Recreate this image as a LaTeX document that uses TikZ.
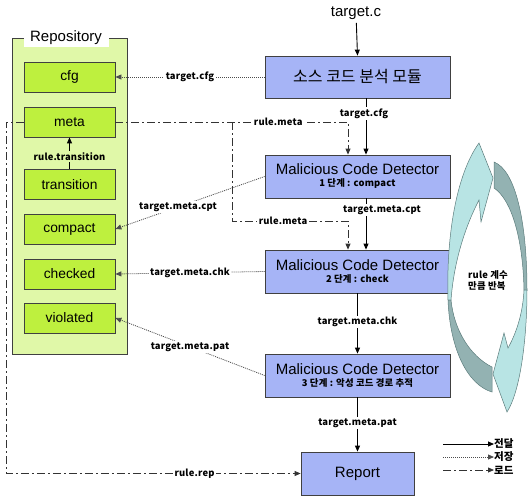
\documentclass[tikz,border=0pt]{standalone}
\usepackage{fontspec}
\setmainfont{Liberation Sans}
\newfontfamily\kr{Noto Sans CJK KR}
\newfontfamily\lblf{Noto Sans CJK KR}[LetterSpace=2]
\usetikzlibrary{arrows.meta}
\definecolor{outg}{HTML}{E0F8A8}
\definecolor{ing}{HTML}{BEF03E}
\definecolor{boxb}{HTML}{A6B4F6}
\definecolor{cyl}{HTML}{B8E4E4}
\definecolor{cyd}{HTML}{93B2B2}
\definecolor{cyo}{HTML}{5C7C7C}
\newcommand\lblfont{\lblf\bfseries\fontsize{9.4}{11}\selectfont}
\newcommand\bigf{\fontsize{15}{15}\selectfont}
\begin{document}
\begin{tikzpicture}[x=1pt,y=-1pt,
  repbox/.style={draw=black!75, fill=ing, minimum width=91pt, minimum height=30pt, inner sep=0pt, font=\fontsize{13.8}{14}\selectfont, line width=0.8pt},
  modbox/.style={draw=black!75, fill=boxb, minimum width=185pt, minimum height=43pt, inner sep=0pt, line width=0.8pt, align=center},
  lbl/.style={fill=white, text=black, inner sep=1.5pt, font=\lblfont},
  tip/.style={-{Triangle[length=6pt,width=5pt]}},
  flow/.style={line width=0.9pt, tip},
  store/.style={line width=0.8pt, black!70, dash pattern=on 1pt off 1pt, tip},
  load/.style={line width=0.8pt, black!80, dash pattern=on 8pt off 3pt on 2pt off 3pt, tip},
  cyc/.style={draw=cyo, line width=0.5pt},
]
\useasboundingbox (0,0) rectangle (528,496);

% Repository
\node[draw=black!75, fill=outg, line width=0.8pt, minimum width=115pt, minimum height=316pt, inner sep=0pt] (repo) at (69.5,196) {};
\node[fill=white, minimum width=85pt, minimum height=18pt, inner sep=0pt, font=\bigf] (reptitle) at ([xshift=-3.5pt]repo.north) {Repository};
\node[repbox] (cfg) at (69.5,77) {cfg};
\node[repbox] (meta) at (69.5,122) {meta};
\node[repbox] (transition) at (69.5,184.5) {transition};
\node[repbox] (compact) at (69.5,229) {compact};
\node[repbox] (checked) at (69.5,274) {checked};
\node[repbox] (violated) at (69.5,318) {violated};

% modules
\node[font=\bigf] (tc) at (356,13) {target.c};
\node[modbox, minimum height=42pt] (src) at (357.5,77) {\kr\fontsize{16}{16}\selectfont 소스 코드 분석 모듈};
\node[modbox] (det1) at (357.5,176.5) {\bigf Malicious Code Detector\\\lblfont 1 단계 : compact};
\node[modbox] (det2) at (357.5,271.5) {\bigf Malicious Code Detector\\\lblfont 2 단계 : check};
\node[modbox] (det3) at (357.5,375.5) {\bigf Malicious Code Detector\\\lblfont 3 단계 : 악성 코드 경로 추적};
\node[modbox, minimum width=113pt] (report) at (357.5,473.5) {\bigf Report};

% main flow
\draw[flow] (tc) -- (src.north);
\draw[flow] ([xshift=8.5pt]src.south) -- node[lbl, pos=.27, xshift=-2pt] {target.cfg} ([xshift=8.5pt]det1.north);
\draw[flow] ([xshift=8.5pt]det1.south) -- node[lbl, pos=.23, xshift=16pt] {target.meta.cpt} ([xshift=8.5pt]det2.north);
\draw[flow] (det2.south) -- node[lbl, pos=.475] {target.meta.chk} (det3.north);
\draw[flow] (det3.south) -- node[lbl, pos=.47] {target.meta.pat} (report.north);
\draw[flow] (transition.north) -- node[lbl, fill=outg, pos=.4] {rule.transition} (meta.south);

% storage
\draw[store] (src.west) -- node[lbl] {target.cfg} (cfg.east);
\draw[store] (det1.west) -- node[lbl, pos=.58] {target.meta.cpt} (compact.east);
\draw[store] (det2.west) -- node[lbl] {target.meta.chk} (checked.east);
\draw[store] (det3.west) -- node[lbl, pos=.5] {target.meta.pat} (violated.east);

% load
\coordinate (d1l) at ([xshift=-9.5pt]det1.north);
\coordinate (d2l) at ([xshift=-9.5pt]det2.north);
\coordinate (br) at (232,122);
\coordinate (brd) at (232,221);
\coordinate (brr) at (348,221);
\coordinate (lx) at (6,122);
\coordinate (ld) at (6,473.5);
\draw[load] (meta.east) -- node[lbl, pos=.7] {rule.meta} (meta.east -| d1l) -- (d1l);
\draw[load] (br) -- (brd) -- node[lbl, pos=.44] {rule.meta} (brr) -- (d2l);
\draw[load] (meta.west) -- (lx) -- (ld) -- node[lbl, pos=.64] {rule.rep} (report.west);

% cycle arrows
\filldraw[cyc, fill=cyl] (448,300) .. controls (446,230) and (458,172) .. (479,143) -- (493,178) -- (481,222) -- (479,200) .. controls (466,225) and (454,260) .. (451,300) -- cycle;
\filldraw[cyc, fill=cyd] (448,300) .. controls (450,350) and (468,385) .. (492,392) -- (492,367) .. controls (470,356) and (454,330) .. (451,300) -- cycle;
\filldraw[cyc, fill=cyd] (494,162) .. controls (515,170) and (527,220) .. (527,290) -- (524,290) .. controls (523,240) and (512,200) .. (494,188) -- cycle;
\filldraw[cyc, fill=cyl] (527,290) .. controls (527,340) and (520,392) .. (507,412) -- (493,374) -- (504,333) -- (508,348) .. controls (518,330) and (523,310) .. (524,290) -- cycle;
\node[font=\lblfont, align=left, inner sep=0pt] (rep) at (488,280) {rule 계수\\만큼 반복};

% legend
\coordinate (la) at (443,444);
\coordinate (lb) at (443,457);
\coordinate (lc) at (443,470);
\node[anchor=west, inner sep=0pt, font=\kr\bfseries\fontsize{10.5}{11}\selectfont] (lt1) at (494,444) {전달};
\node[anchor=west, inner sep=0pt, font=\kr\bfseries\fontsize{10.5}{11}\selectfont] (lt2) at (494,457) {저장};
\node[anchor=west, inner sep=0pt, font=\kr\bfseries\fontsize{10.5}{11}\selectfont] (lt3) at (494,470) {로드};
\draw[flow] (la) -- (lt1.west);
\draw[store] (lb) -- (lt2.west);
\draw[load] (lc) -- (lt3.west);
\end{tikzpicture}
\end{document}
